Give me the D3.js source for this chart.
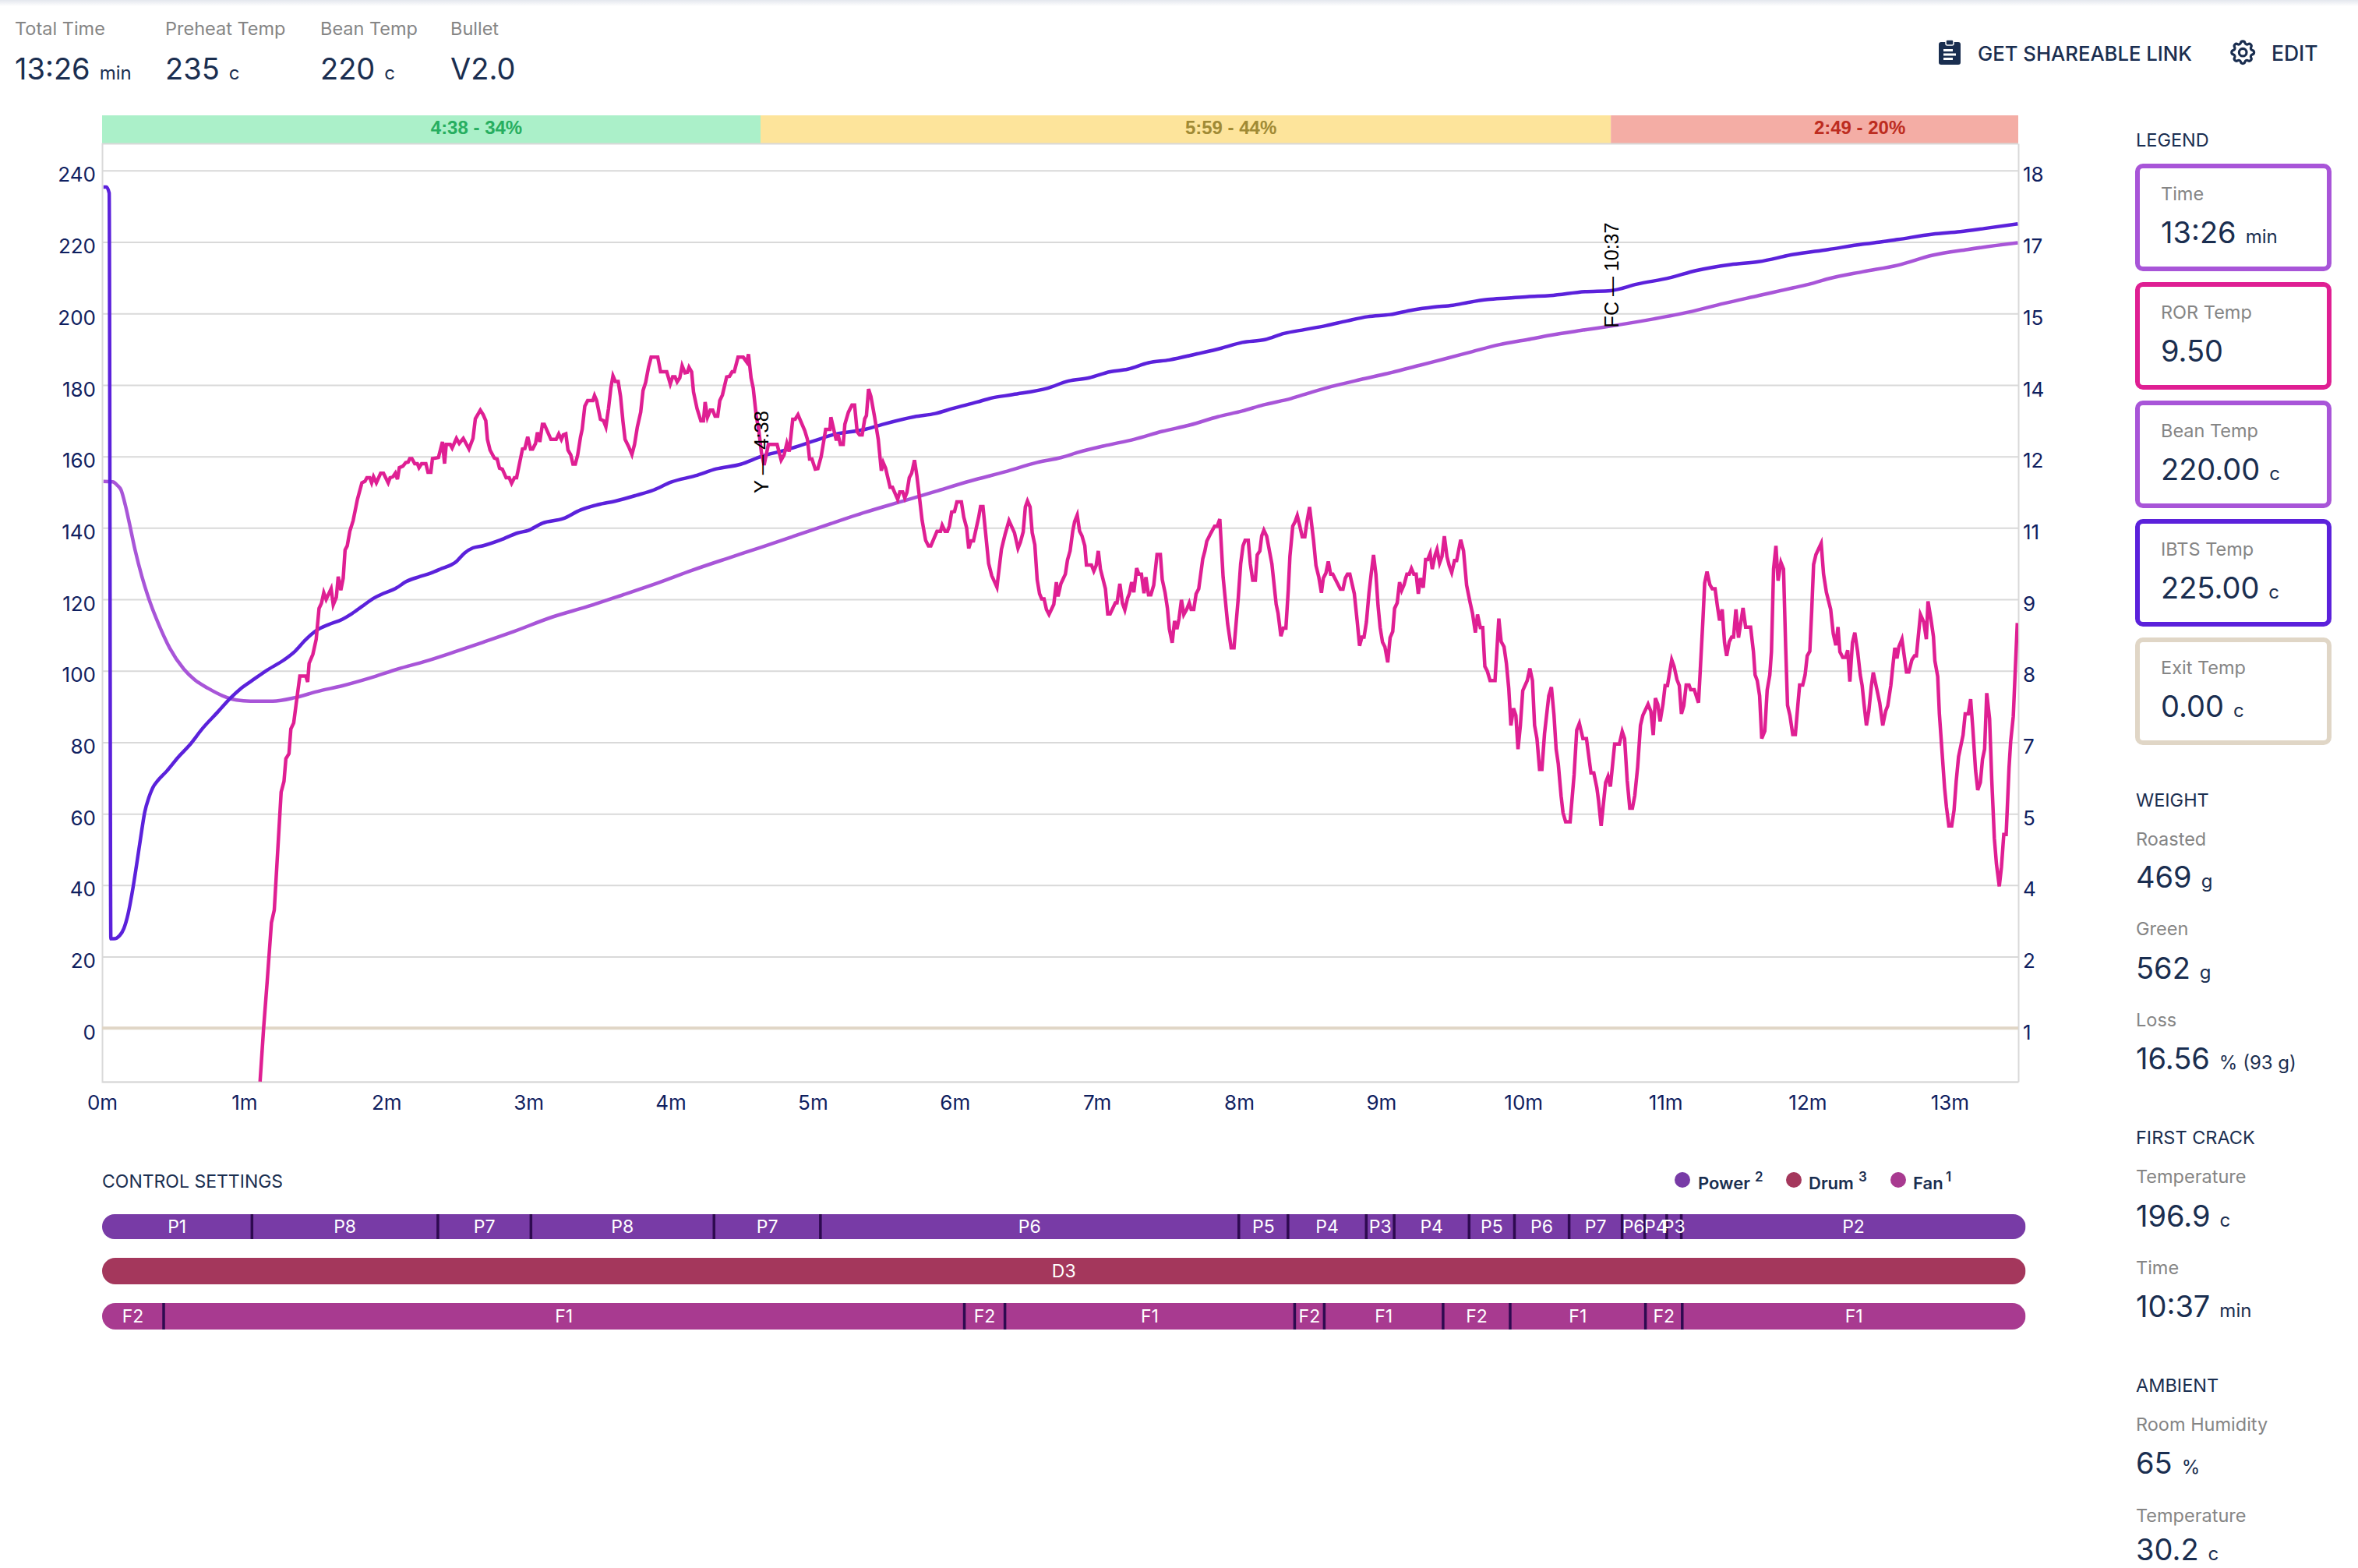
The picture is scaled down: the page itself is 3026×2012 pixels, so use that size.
<!DOCTYPE html>
<html>
<head>
<meta charset="utf-8">
<title>Roast profile</title>
<script src="https://cdn.jsdelivr.net/npm/d3@7"></script>
<style>
  html, body { margin: 0; padding: 0; background: #fff; }
  svg { display: block; font-family: Inter, "Noto Sans", sans-serif; }
</style>
</head>
<body>
<div id="chart"></div>
<script>
// tick labels
const tempTicks = [240, 220, 200, 180, 160, 140, 120, 100, 80, 60, 40, 20, 0];
const rorTickLabels = [18, 17, 15, 14, 12, 11, 9, 8, 7, 5, 4, 2, 1];
const minuteTicks = [0, 1, 2, 3, 4, 5, 6, 7, 8, 9, 10, 11, 12, 13];

// roast phases, seconds
const phaseEnds = [278, 637, 809];
const phaseLabels = ["4:38 - 34%", "5:59 - 44%", "2:49 - 20%"];
const phaseFill = ["#abf0c9", "#fde49b", "#f4ada5"];
const phaseText = ["#27ae60", "#a08a35", "#bd2c20"];

// ibts temp (c)
const ibtsTimes = [0.6, 1.8, 3, 3.7, 5, 7.4, 9.2, 11, 12.7, 14.5, 16.2, 18, 19.8, 21.5, 23.3, 27.4, 32.1, 36.8, 42.7, 48.6,
  54.4, 58.5, 63.8, 69.7, 76.7, 81.5, 86.1, 90.8, 95.5, 101.4, 105.5, 109.7, 114.4, 119, 123.8, 128.5, 134.3, 139, 142.6, 149.6,
  153.1, 156.6, 160.9, 168.2, 175.6, 180, 185.9, 194.7, 202, 209.4, 216.7, 225.5, 232.9, 240.2, 250.5, 259.3, 269.6, 278.4, 288.7, 300.4,
  307.7, 322.4, 329.8, 343, 351.8, 359.1, 369.4, 375.3, 384.5, 399.2, 408, 416.8, 425.6, 433, 441.8, 450.6, 462.3, 472.6, 481.4, 491,
  499, 507.8, 516.7, 525.5, 534.3, 543.8, 553.4, 562.2, 570.3, 576.9, 585, 593.6, 601.8, 611.3, 626, 637, 648, 661.9, 672.9, 687.6,
  699.4, 714, 728.7, 743.4, 750.8, 758.1, 772.8, 784.5, 794.8, 808.8];
const ibtsValues = [235.4, 235.4, 233.7, 25, 25, 25.9, 27.9, 32, 37.9, 45.4, 52.9, 60.4, 64.6, 67.4, 69.1, 72, 75.8, 79.1, 84.1, 88.3,
  92.5, 95, 97.5, 100.2, 103, 105.5, 108.8, 111.4, 112.9, 114.4, 116, 118, 120.2, 121.7, 123, 125, 126.4, 127.4, 128.4, 130.6,
  133, 134.4, 135, 136.6, 138.6, 139.3, 141.3, 142.6, 145, 146.5, 147.5, 149.1, 150.6, 152.8, 154.6, 156.5, 157.8, 160, 161.8, 164.3,
  165.9, 167.6, 169, 171.1, 172, 173.4, 175.2, 176.3, 177.3, 179.1, 181.1, 182, 183.7, 184.4, 186.2, 187, 188.7, 190.3, 191.9, 192.7,
  194.4, 195.5, 196.6, 197.9, 199.1, 199.7, 201, 201.8, 202.3, 203.1, 203.9, 204.3, 204.7, 205, 206.1, 206.4, 208.2, 210, 212, 213.7,
  214.5, 216.5, 217.9, 219.4, 220, 220.7, 222.2, 222.9, 223.8, 225.1];

// bean temp (c)
const beanTimes = [0.6, 4.5, 6.3, 8, 9.8, 11.5, 13.9, 16.8, 20.4, 23.9, 28.6, 34.5, 39.1, 45, 50.9, 56.8, 62.6, 72, 81.5, 90.8,
  101.4, 113.2, 124.9, 136.7, 148.4, 160.9, 172.6, 190.3, 205, 219.6, 234.3, 249, 263.7, 278.4, 293.1, 307.7, 322.4, 337.1, 351.8, 366.5,
  381.2, 394.8, 405, 412.4, 424.1, 435.9, 447.6, 459.4, 471.1, 481.4, 490.2, 502, 510.8, 521.1, 531.3, 544.6, 556.3, 568.1, 578.3, 590.1,
  601.8, 611.3, 626, 639.2, 655.3, 670, 684.7, 699.4, 714.1, 721.4, 728.7, 743.4, 758.1, 772.8, 787.5, 799.2, 808.8];
const beanValues = [153, 152.9, 152, 150.6, 146.4, 141.4, 133.9, 126.4, 118.9, 113, 106.3, 100.5, 97.5, 95, 93, 91.8, 91.5, 91.5, 92.5, 94.2,
  95.8, 98, 100.5, 102.7, 105.2, 108, 110.7, 115.1, 118, 121.2, 124.5, 128.1, 131.4, 134.6, 137.9, 141.2, 144.4, 147.3, 150.2, 153.1,
  155.7, 158.3, 159.7, 161.2, 163.1, 164.8, 167, 168.8, 171.1, 172.7, 174.4, 176.2, 178, 179.9, 181.5, 183.5, 185.5, 187.5, 189.3, 191.3,
  192.7, 193.9, 195.4, 196.7, 198.5, 200.4, 202.8, 205, 207.2, 208.3, 209.7, 211.7, 213.5, 216.3, 217.9, 219, 219.8];

// exit temp sits at 0 the whole roast
const exitTimes = [0, 809];
const exitValues = [0, 0];

// rate of rise, right axis units
const rorTimes = [
  66.7, 68.2, 69.7, 71.5, 72.7, 75.6, 76.8, 77.6, 78.9, 79.7,
  80.9, 82, 83.5, 86, 86.8, 87.4, 89, 90.4, 91.6, 92.6,
  93.6, 94.6, 96.7, 97.6, 98.9, 99.7, 100.8, 101.8, 102.6, 103.5,
  104.6, 106, 107.8, 109.7, 111, 111.8, 113, 113.8, 114.6, 115.8,
  117.6, 118.8, 120.8, 121.6, 122.8, 123.8, 124.7, 125.5, 127, 128.2,
  129.2, 129.9, 130.8, 132, 133.1, 133.8, 134.9, 136.7, 137.6, 138.8,
  139.5, 142, 143.7, 144.6, 145.3, 147, 147.8, 149.6, 150.8, 152.5,
  154.9, 156.6, 157.6, 159.7, 160.9, 162, 162.7, 163.8, 165.6, 166.8,
  167.8, 169, 170.6, 171.9, 172.9, 174.1, 175, 177.5, 178.5, 179.7,
  180.9, 181.8, 183, 183.8, 184.8, 185.9, 186.7, 189.5, 191.7, 192.8,
  193.9, 194.7, 195.8, 196.7, 197.9, 198.8, 199.8, 200.8, 202, 202.7,
  203.8, 205, 207.2, 207.9, 208.8, 210.4, 211.7, 212.7, 213.8, 214.8,
  215.7, 216.7, 217.9, 218.9, 219.9, 220.8, 222.3, 223.7, 224.8, 226,
  227.4, 228.4, 229.5, 230.7, 231.8, 234.6, 235.8, 238.4, 239.9, 240.9,
  241.9, 242.8, 243.9, 244.9, 246.1, 247.1, 247.8, 248.9, 249.7, 251.2,
  252.8, 253.9, 254.6, 255.6, 256.8, 257.8, 258.8, 259.9, 260.8, 261.9,
  263.7, 264.9, 266, 266.9, 268.5, 270.7, 272.2, 272.9, 274, 274.9,
  276.2, 277.2, 278.4, 279.5, 281.3, 285, 286.7, 287.9, 289.1, 290.1,
  291.6, 292.6, 293.8, 296.7, 297.8, 298.7, 299.7, 301.1, 302.2, 303.6,
  305.5, 307.3, 307.7, 310, 310.7, 311.7, 312.9, 313.6, 315.1, 316.6,
  317.7, 318.8, 319.8, 320.9, 322, 322.7, 323.6, 324.6, 326.1, 327.7,
  329, 329.8, 330.8, 332.7, 333.7, 335.9, 336.8, 338, 338.9, 339.8,
  340.8, 341.8, 343, 344, 345.2, 346.2, 347.7, 348.9, 349.9, 352.5,
  354, 354.7, 355.9, 356.9, 357.7, 358.7, 359.9, 360.9, 362.8, 363.8,
  365, 365.9, 366.9, 367.9, 370.1, 370.9, 371.9, 373.1, 374.3, 375.6,
  377.8, 379.7, 381.2, 382.9, 385.2, 386.7, 387.7, 388.9, 389.8, 390.7,
  391.8, 392.7, 393.8, 394.8, 395.8, 396.7, 397.7, 398.7, 399.8, 401.8,
  402.9, 403.6, 404.8, 406.7, 407.6, 408.7, 409.8, 410.6, 411.7, 412.7,
  413.7, 414.9, 415.6, 417.7, 418.7, 419.7, 420.6, 421.5, 423.6, 424.6,
  425.6, 427.8, 428.5, 429.7, 430.8, 431.8, 433, 433.7, 434.7, 435.6,
  436.8, 437.7, 438.8, 439.9, 440.7, 441.8, 442.8, 444, 445.4, 446.8,
  447.6, 448.8, 449.8, 450.6, 451.8, 452.8, 453.8, 454.7, 455.7, 456.7,
  457.9, 459, 459.8, 460.9, 461.9, 463, 464.7, 465.6, 466.4, 468.2,
  469.7, 470.8, 471.9, 473.3, 475.2, 476.7, 477.9, 479.7, 480.7, 481.7,
  482.6, 483.9, 484.8, 485.8, 486.9, 487.7, 488.8, 489.6, 490.5, 491.7,
  493.9, 495.7, 496.5, 497.7, 498.7, 499.8, 500.8, 501.5, 502.7, 503.7,
  504.6, 505.6, 506.7, 507.8, 508.7, 509.8, 511.5, 512.5, 513.7, 514.8,
  515.6, 516.7, 517.7, 518.7, 519.6, 522.8, 523.9, 524.9, 525.8, 526.8,
  528.7, 529.9, 530.9, 531.9, 532.8, 533.8, 534.9, 535.8, 536.8, 537.8,
  538.7, 539.6, 540.6, 541.6, 542.8, 543.8, 544.9, 545.7, 546.8, 547.8,
  548.7, 549.7, 550.9, 551.9, 552.8, 553.8, 554.8, 555.7, 556.6, 557.8,
  558.8, 559.7, 560.7, 561.6, 562.8, 563.6, 564.7, 565.7, 566.7, 567.8,
  568.8, 569.8, 571, 571.9, 573.6, 574.8, 576.1, 577.6, 578.6, 579.8,
  580.7, 581.9, 582.9, 583.8, 584.8, 586, 588.1, 589.7, 590.7, 591.9,
  592.9, 593.9, 594.8, 595.9, 596.9, 597.8, 598.8, 599.8, 601.7, 602.8,
  603.9, 604.8, 605.8, 606.9, 607.9, 609, 610.8, 611.9, 613, 613.9,
  614.8, 616, 616.8, 617.9, 619.8, 621.5, 622.6, 623.7, 625.2, 626.7,
  627.7, 628.6, 629.8, 631.1, 631.8, 632.9, 634, 634.8, 635.8, 636.8,
  638.6, 640.6, 641.8, 642.8, 643.9, 645, 646.1, 647.1, 648.3, 649.5,
  650.5, 652.7, 653.9, 654.9, 655.8, 656.8, 657.8, 659, 659.9, 660.9,
  662.7, 663.7, 664.9, 665.9, 666.8, 667.8, 668.8, 670, 670.7, 672.2,
  674, 674.7, 675.9, 676.6, 677.6, 678.8, 679.8, 681, 682, 682.9,
  684, 685, 685.9, 687, 688, 688.8, 689.8, 690.9, 692.8, 693.9,
  696, 697.2, 697.9, 698.8, 699.8, 700.7, 702, 703, 704.1, 704.8,
  705.7, 706.7, 707.6, 708.8, 709.9, 710.8, 711.6, 712.6, 713.8, 714.9,
  716, 716.7, 718, 719, 719.9, 721, 721.8, 722.6, 723.6, 725.8,
  726.8, 728, 729.8, 730.9, 732, 732.9, 733.7, 734.9, 736.1, 737,
  737.9, 739, 740, 741.2, 742.3, 743.1, 743.9, 744.9, 745.9, 747,
  747.8, 750.5, 751.8, 753, 753.9, 755.2, 756.1, 756.9, 757.8, 758.6,
  759.9, 761.8, 762.8, 764.1, 765.2, 766, 767.7, 769.1, 770.2, 770.9,
  772.1, 773.2, 773.8, 775, 775.7, 776.9, 777.9, 778.7, 779.7, 780.9,
  781.9, 782.8, 783.8, 785.7, 786.6, 787.9, 788.9, 789.8, 791, 791.9,
  793, 793.9, 794.8, 795.7, 796.9, 797.8, 798.9, 799.8, 801, 801.9,
  802.9, 803.9, 805.1, 805.8, 806.9, 807.7, 808.6];
const rorValues = [
  -0.06, 1.00, 1.92, 3.09, 3.34, 5.68, 5.89, 6.34, 6.44, 6.93,
  7.05, 7.45, 7.98, 7.98, 7.86, 8.23, 8.41, 8.71, 9.32, 9.42,
  9.63, 9.50, 9.71, 9.39, 9.54, 9.95, 9.68, 9.92, 10.48, 10.56,
  10.85, 11.06, 11.48, 11.81, 11.84, 11.91, 11.91, 11.81, 11.93, 11.81,
  12.00, 12.00, 11.81, 11.91, 11.93, 12.00, 11.88, 12.11, 12.14, 12.21,
  12.22, 12.29, 12.29, 12.19, 12.19, 12.11, 12.19, 12.19, 12.02, 12.02,
  12.29, 12.31, 12.62, 12.19, 12.57, 12.57, 12.50, 12.69, 12.59, 12.69,
  12.48, 12.69, 13.08, 13.25, 13.16, 13.04, 12.67, 12.46, 12.30, 12.28,
  12.10, 12.08, 11.91, 11.91, 11.80, 11.91, 11.91, 12.48, 12.49, 12.72,
  12.48, 12.48, 12.59, 12.81, 12.62, 12.97, 12.97, 12.67, 12.67, 12.78,
  12.67, 12.76, 12.78, 12.46, 12.36, 12.18, 12.18, 12.36, 12.72, 12.87,
  13.33, 13.44, 13.44, 13.54, 13.44, 13.07, 13.04, 12.92, 13.28, 13.69,
  13.93, 13.82, 13.82, 13.52, 13.03, 12.67, 12.53, 12.37, 12.57, 12.92,
  13.21, 13.64, 13.80, 14.10, 14.30, 14.30, 14.01, 14.01, 13.77, 13.91,
  13.91, 13.81, 13.89, 14.13, 13.99, 14.00, 14.10, 14.01, 13.61, 13.28,
  13.04, 13.04, 13.41, 13.11, 13.25, 13.25, 13.13, 13.13, 13.44, 13.55,
  13.91, 13.92, 14.01, 14.01, 14.30, 14.30, 14.20, 14.36, 13.89, 13.69,
  13.13, 12.87, 12.40, 12.16, 12.57, 12.57, 12.26, 12.36, 12.59, 12.43,
  13.07, 13.07, 13.16, 12.84, 12.67, 12.28, 12.28, 12.08, 12.09, 12.33,
  12.87, 12.87, 13.11, 12.65, 12.77, 12.57, 12.57, 12.97, 13.21, 13.35,
  13.35, 12.82, 12.76, 12.76, 13.08, 13.14, 13.67, 13.52, 13.13, 12.67,
  12.05, 12.21, 12.10, 11.72, 11.72, 11.48, 11.63, 11.63, 11.51, 11.62,
  11.91, 12.00, 12.26, 11.95, 11.48, 11.07, 10.67, 10.56, 10.56, 10.85,
  10.85, 10.97, 10.85, 10.85, 10.95, 11.23, 11.24, 11.43, 11.43, 11.13,
  10.92, 10.51, 10.66, 10.66, 11.13, 11.34, 11.34, 10.78, 10.21, 9.97,
  9.74, 10.49, 10.78, 11.06, 10.82, 10.51, 10.63, 10.84, 11.33, 11.45,
  11.33, 10.82, 10.58, 9.89, 9.61, 9.51, 9.51, 9.30, 9.20, 9.40,
  9.84, 9.56, 9.81, 10.00, 10.28, 10.46, 10.85, 11.04, 11.17, 10.85,
  10.76, 10.56, 10.18, 10.18, 10.06, 10.17, 10.46, 10.10, 9.71, 9.21,
  9.21, 9.43, 9.43, 9.81, 9.42, 9.29, 9.53, 9.61, 9.84, 9.64,
  10.12, 10.00, 10.00, 9.62, 9.94, 9.59, 9.59, 9.78, 10.39, 10.39,
  9.89, 9.63, 9.32, 8.91, 8.64, 9.07, 8.91, 9.12, 9.49, 9.20,
  9.30, 9.43, 9.30, 9.30, 9.61, 9.71, 10.30, 10.46, 10.65, 10.82,
  10.95, 10.95, 11.09, 9.94, 9.02, 8.54, 8.54, 9.53, 10.20, 10.56,
  10.67, 10.67, 10.20, 9.88, 9.88, 10.38, 10.46, 10.76, 10.87, 10.75,
  10.20, 9.40, 9.22, 8.77, 8.93, 8.93, 9.68, 10.35, 10.95, 11.04,
  11.16, 10.97, 10.74, 10.74, 11.04, 11.33, 10.66, 10.17, 9.94, 9.63,
  9.92, 10.02, 10.25, 10.00, 10.00, 9.70, 9.70, 9.92, 10.00, 10.00,
  9.61, 9.07, 8.58, 8.75, 8.75, 9.05, 9.63, 10.00, 10.38, 10.00,
  9.38, 8.94, 8.65, 8.56, 8.25, 8.74, 8.86, 9.32, 9.43, 9.84,
  9.68, 9.79, 10.00, 10.00, 10.11, 10.00, 10.00, 9.61, 9.92, 9.73,
  10.29, 10.29, 10.41, 10.10, 10.38, 10.49, 10.22, 10.35, 10.75, 10.35,
  10.16, 10.03, 10.27, 10.27, 10.68, 10.46, 9.78, 9.43, 9.22, 8.84,
  9.20, 8.94, 8.94, 8.17, 8.08, 7.89, 7.89, 9.12, 8.66, 8.56,
  8.23, 7.73, 7.00, 7.34, 7.20, 6.53, 7.00, 7.69, 7.89, 8.13,
  7.89, 7.00, 6.74, 6.13, 6.13, 6.84, 7.59, 7.76, 7.20, 6.53,
  6.24, 5.60, 5.27, 5.09, 5.09, 6.03, 6.91, 7.04, 6.74, 6.74,
  6.38, 6.06, 6.06, 5.76, 5.51, 5.01, 5.51, 5.87, 5.99, 5.79,
  6.63, 6.63, 6.88, 6.74, 5.91, 5.36, 5.36, 5.61, 6.17, 7.00,
  7.20, 7.42, 7.28, 6.81, 7.54, 7.42, 7.08, 7.42, 7.79, 7.79,
  8.30, 8.17, 7.91, 7.79, 7.23, 7.39, 7.80, 7.80, 7.71, 7.71,
  7.45, 8.05, 9.12, 9.82, 10.05, 9.79, 9.71, 9.71, 9.36, 9.08,
  9.30, 8.64, 8.38, 8.66, 8.75, 8.75, 9.30, 8.74, 9.33, 8.95,
  8.95, 8.46, 8.00, 7.89, 7.59, 6.74, 6.89, 7.70, 8.00, 8.46,
  10.10, 10.56, 9.87, 10.23, 10.10, 8.56, 7.40, 7.20, 6.82, 6.82,
  7.43, 7.80, 7.80, 8.00, 8.38, 8.47, 9.28, 10.19, 10.39, 10.61,
  10.00, 9.64, 9.30, 8.82, 8.59, 8.95, 8.46, 8.35, 8.35, 8.49,
  7.87, 8.64, 8.84, 8.46, 8.00, 7.79, 7.42, 7.00, 7.28, 7.79,
  8.05, 7.45, 7.00, 7.28, 7.39, 7.79, 8.20, 8.54, 8.33, 8.56,
  8.71, 8.06, 8.06, 8.30, 8.38, 8.38, 9.20, 9.05, 8.71, 9.46,
  9.12, 8.76, 8.28, 7.97, 7.23, 6.43, 5.76, 5.38, 5.01, 5.01,
  5.32, 5.89, 6.38, 6.81, 7.23, 7.23, 7.52, 6.95, 6.10, 5.72,
  5.87, 6.33, 6.53, 7.64, 7.13, 5.94, 4.77, 4.25, 3.81, 4.19,
  4.84, 4.84, 6.15, 6.68, 7.18, 8.05, 9.03];

// yellow and first crack markers
const eventTimes = [278, 637];
const eventLabels = ["Y — 4:38", "FC — 10:37"];

// control settings, start second of each block after the first
const powerStarts = [0, 62.8, 140.7, 179.7, 256.4, 301, 476.3, 496.9, 529.7, 541.4, 572.8, 591.8, 614.7, 636.9, 646.4, 655.6, 661.7];
const powerLabels = ["P1", "P8", "P7", "P8", "P7", "P6", "P5", "P4", "P3", "P4", "P5", "P6", "P7", "P6", "P4", "P3", "P2"];
const drumStarts = [0];
const drumLabels = ["D3"];
const fanStarts = [0, 25.8, 361.3, 378.3, 499.7, 512.1, 561.9, 590, 646.7, 662.1];
const fanLabels = ["F2", "F1", "F2", "F1", "F2", "F1", "F2", "F1", "F2", "F1"];
const roastSeconds = 806;

// side panel
const legendNames = ["Time", "ROR Temp", "Bean Temp", "IBTS Temp", "Exit Temp"];
const legendValues = ["13:26", "9.50", "220.00", "225.00", "0.00"];
const legendUnits = ["min", "", "c", "c", "c"];

const navy = "#1a2e50";
const axisNavy = "#0f2060";
const grey = "#858585";
const gridGrey = "#d9d9d9";
const ibtsColor = "#5b21db";
const beanColor = "#a855d8";
const rorColor = "#df1f93";
const exitColor = "#e0d6c6";
const legendColors = [beanColor, rorColor, beanColor, ibtsColor, exitColor];
const controlColors = { power: "#783ba6", drum: "#a4375c", fan: "#a83a90" };

const width = 3026, height = 2012;
const plot = { left: 131, right: 2590, top: 184, bottom: 1388 };

const svg = d3.select("#chart").append("svg")
  .attr("width", width)
  .attr("height", height)
  .attr("viewBox", `0 0 ${width} ${height}`);

// schaduw van de navbar bovenaan
const shadow = svg.append("defs").append("linearGradient")
  .attr("id", "topShadow").attr("x1", 0).attr("x2", 0).attr("y1", 0).attr("y2", 1);
shadow.append("stop").attr("offset", 0).attr("stop-color", "#e4e7ee");
shadow.append("stop").attr("offset", 1).attr("stop-color", "#ffffff");
svg.append("rect").attr("width", width).attr("height", 8).attr("fill", "url(#topShadow)");

function label(g, x, y, str, size, color, weight) {
  return g.append("text")
    .attr("x", x).attr("y", y)
    .attr("font-size", size)
    .attr("font-weight", weight || 400)
    .attr("fill", color)
    .text(str);
}

// waarde met kleinere eenheid erachter
function valueWithUnit(x, y, value, unit) {
  const t = svg.append("text").attr("x", x).attr("y", y).attr("fill", navy);
  t.append("tspan").attr("font-size", 38).text(value);
  if (unit) t.append("tspan").attr("font-size", 24).attr("dx", 12).text(unit);
}

// header
const headerNames = ["Total Time", "Preheat Temp", "Bean Temp", "Bullet"];
const headerValues = ["13:26", "235", "220", "V2.0"];
const headerUnits = ["min", "c", "c", ""];
const headerX = [19, 212, 411, 578];
headerNames.forEach((name, i) => {
  label(svg, headerX[i], 45, name, 23.5, grey);
  valueWithUnit(headerX[i], 102, headerValues[i], headerUnits[i]);
});

// buttons
const clip = svg.append("g").attr("transform", "translate(2488,51)");
clip.append("rect").attr("y", 3).attr("width", 28).attr("height", 29).attr("rx", 3).attr("fill", navy);
clip.append("rect").attr("x", 9).attr("width", 10).attr("height", 7).attr("rx", 2).attr("fill", navy).attr("stroke", "#fff").attr("stroke-width", 1.5);
[12, 17.5, 23].forEach((yy, i) => {
  clip.append("rect").attr("x", 6).attr("y", yy).attr("width", i === 1 ? 16 : 12).attr("height", 3).attr("fill", "#fff");
});
label(svg, 2538, 78, "GET SHAREABLE LINK", 25.7, navy, 500);
const gear = svg.append("g").attr("transform", "translate(2859,48) scale(1.6)")
  .attr("fill", "none").attr("stroke", navy).attr("stroke-width", 2);
gear.append("path").attr("d", "M10.325 4.317c.426-1.756 2.924-1.756 3.35 0a1.724 1.724 0 002.573 1.066c1.543-.94 3.31.826 2.37 2.37a1.724 1.724 0 001.065 2.572c1.756.426 1.756 2.924 0 3.35a1.724 1.724 0 00-1.066 2.573c.94 1.543-.826 3.31-2.37 2.37a1.724 1.724 0 00-2.572 1.065c-.426 1.756-2.924 1.756-3.35 0a1.724 1.724 0 00-2.573-1.066c-1.543.94-3.31-.826-2.37-2.37a1.724 1.724 0 00-1.065-2.572c-1.756-.426-1.756-2.924 0-3.35a1.724 1.724 0 001.066-2.573c-.94-1.543.826-3.31 2.37-2.37.996.608 2.296.07 2.572-1.065z");
gear.append("circle").attr("cx", 12).attr("cy", 12).attr("r", 3);
label(svg, 2915, 78, "EDIT", 26.5, navy, 500);

// schalen
const x = d3.scaleLinear().domain([0, 809]).range([plot.left, plot.right]);
const yTemp = d3.scaleLinear().domain([-15, 247.6]).range([plot.bottom, plot.top]);
const yRor = d3.scaleLinear().domain([1, 18]).range([yTemp(0), yTemp(240)]);

// fase balk, de labels staan in het origineel iets rechts van het midden
const phaseG = svg.append("g").selectAll("g").data(phaseEnds).enter().append("g");
phaseG.append("rect")
  .attr("x", (d, i) => x(i ? phaseEnds[i - 1] : 0))
  .attr("y", 148)
  .attr("width", (d, i) => x(d) - x(i ? phaseEnds[i - 1] : 0))
  .attr("height", 36)
  .attr("fill", (d, i) => phaseFill[i]);
phaseG.append("text")
  .attr("x", (d, i) => (x(d) + x(i ? phaseEnds[i - 1] : 0)) / 2 + 58)
  .attr("y", 172)
  .attr("text-anchor", "middle")
  .attr("font-family", "'Liberation Sans', Arial, sans-serif")
  .attr("font-size", 24)
  .attr("font-weight", 700)
  .attr("fill", (d, i) => phaseText[i])
  .text((d, i) => phaseLabels[i]);

// assen
function styleAxis(g) {
  g.select(".domain").attr("stroke", gridGrey).attr("stroke-width", 2);
  g.selectAll("text").attr("font-size", 26).attr("fill", axisNavy).attr("font-family", "Inter, sans-serif");
}

svg.append("g")
  .attr("transform", `translate(${plot.left},0)`)
  .call(d3.axisLeft(yTemp).tickValues(tempTicks).tickSize(-(plot.right - plot.left)).tickPadding(8))
  .call(styleAxis)
  .call(g => g.selectAll("line").attr("stroke", gridGrey).attr("stroke-width", 2))
  .call(g => g.selectAll("text").attr("dy", "0.62em").attr("y", -2));

svg.append("g")
  .attr("transform", `translate(${plot.right},0)`)
  .call(d3.axisRight(yTemp).tickValues(tempTicks).tickSize(0).tickPadding(6).tickFormat((d, i) => rorTickLabels[i]))
  .call(styleAxis)
  .call(g => g.selectAll("text").attr("dy", "0.62em").attr("y", -2));

svg.append("g")
  .attr("transform", `translate(0,${plot.bottom})`)
  .call(d3.axisBottom(x).tickValues(minuteTicks.map(m => m * 60)).tickSize(0).tickPadding(18).tickFormat(d => (d / 60) + "m"))
  .call(styleAxis);

// lijnen
svg.append("clipPath").attr("id", "plotClip").append("rect")
  .attr("x", plot.left).attr("y", plot.top)
  .attr("width", plot.right - plot.left).attr("height", plot.bottom - plot.top);

const lineTemp = d3.line().x(d => x(d[0])).y(d => yTemp(d[1])).curve(d3.curveMonotoneX);
const lineRor = d3.line().x(d => x(d[0])).y(d => yRor(d[1]));
const zip = (a, b) => a.map((t, i) => [t, b[i]]);

const lines = svg.append("g").attr("clip-path", "url(#plotClip)").attr("fill", "none");
lines.append("path").attr("d", lineTemp(zip(exitTimes, exitValues))).attr("stroke", exitColor).attr("stroke-width", 4);
lines.append("path").attr("d", lineTemp(zip(beanTimes, beanValues))).attr("stroke", beanColor).attr("stroke-width", 4.5);
lines.append("path").attr("d", lineTemp(zip(ibtsTimes, ibtsValues))).attr("stroke", ibtsColor).attr("stroke-width", 4.5);
lines.append("path").attr("d", lineRor(zip(rorTimes, rorValues))).attr("stroke", rorColor).attr("stroke-width", 4.5)
  .attr("stroke-linejoin", "miter");

// annotaties
const eventCenterY = [580, 353];
const eventFontSize = [25.5, 25];
eventTimes.forEach((t, i) => {
  svg.append("text")
    .attr("transform", `translate(${x(t) + 10},${eventCenterY[i]}) rotate(-90)`)
    .attr("text-anchor", "middle")
    .attr("font-family", "'Liberation Sans', Arial, sans-serif")
    .attr("font-size", eventFontSize[i])
    .attr("fill", "#000")
    .text(eventLabels[i]);
});

// control settings
label(svg, 131, 1524, "CONTROL SETTINGS", 23, navy);

const controlLegendDots = [2159, 2302, 2436];
const controlLegendNames = ["Power", "Drum", "Fan"];
const controlLegendSups = ["2", "3", "1"];
const controlLegendColors = [controlColors.power, controlColors.drum, controlColors.fan];
const controlLegendTextX = [2179, 2321, 2455];
const controlLegendSupX = [2252, 2385, 2497];
controlLegendNames.forEach((name, i) => {
  svg.append("circle").attr("cx", controlLegendDots[i]).attr("cy", 1514).attr("r", 10).attr("fill", controlLegendColors[i]);
  label(svg, controlLegendTextX[i], 1526, name, 22, navy, 600);
  label(svg, controlLegendSupX[i], 1516, controlLegendSups[i], 17, navy, 600);
});

const xControl = d3.scaleLinear().domain([0, roastSeconds]).range([131, 2599.5]);

function controlBar(id, starts, names, color, top, h) {
  svg.append("clipPath").attr("id", id).append("rect")
    .attr("x", xControl(0)).attr("y", top)
    .attr("width", xControl(roastSeconds) - xControl(0)).attr("height", h)
    .attr("rx", h / 2);
  const g = svg.append("g").attr("clip-path", `url(#${id})`);
  g.append("rect")
    .attr("x", xControl(0)).attr("y", top)
    .attr("width", xControl(roastSeconds) - xControl(0)).attr("height", h)
    .attr("fill", color);
  g.selectAll("line").data(starts.slice(1)).enter().append("line")
    .attr("x1", d => xControl(d)).attr("x2", d => xControl(d))
    .attr("y1", top).attr("y2", top + h)
    .attr("stroke", "#2e0a50").attr("stroke-width", 3.5);
  svg.append("g").selectAll("text").data(starts).enter().append("text")
    .attr("x", (d, i) => (xControl(d) + xControl(i + 1 < starts.length ? starts[i + 1] : roastSeconds)) / 2)
    .attr("y", top + h / 2 + 8)
    .attr("text-anchor", "middle")
    .attr("font-size", 23)
    .attr("fill", "#fff")
    .text((d, i) => names[i]);
}
controlBar("powerClip", powerStarts, powerLabels, controlColors.power, 1558, 32);
controlBar("drumClip", drumStarts, drumLabels, controlColors.drum, 1614, 34);
controlBar("fanClip", fanStarts, fanLabels, controlColors.fan, 1672, 34);

// zijpaneel
label(svg, 2741, 188, "LEGEND", 23.5, navy);
legendNames.forEach((name, i) => {
  const top = 213 + i * 152;
  svg.append("rect")
    .attr("x", 2743).attr("y", top)
    .attr("width", 246).attr("height", 132)
    .attr("rx", 7)
    .attr("fill", "none")
    .attr("stroke", legendColors[i])
    .attr("stroke-width", 6);
  label(svg, 2773, top + 44, name, 23.5, grey);
  valueWithUnit(2773, top + 99, legendValues[i], legendUnits[i]);
});

const statLabels = [
  ["WEIGHT", 1035, "head"], ["Roasted", 1085, "sub"], ["FIRST CRACK", 1468, "head"], ["Temperature", 1518, "sub"],
  ["Green", 1200, "sub"], ["Loss", 1317, "sub"], ["Time", 1635, "sub"], ["AMBIENT", 1786, "head"],
  ["Room Humidity", 1836, "sub"], ["Temperature", 1953, "sub"]
];
statLabels.forEach(d => {
  label(svg, 2741, d[1], d[0], 23.5, d[2] === "head" ? navy : grey);
});

const statValues = ["469", "562", "16.56", "196.9", "10:37", "65", "30.2"];
const statUnits = ["g", "g", "% (93 g)", "c", "min", "%", "c"];
const statY = [1139, 1256, 1372, 1574, 1690, 1891, 2002];
statValues.forEach((v, i) => valueWithUnit(2741, statY[i], v, statUnits[i]));
</script>
</body>
</html>
